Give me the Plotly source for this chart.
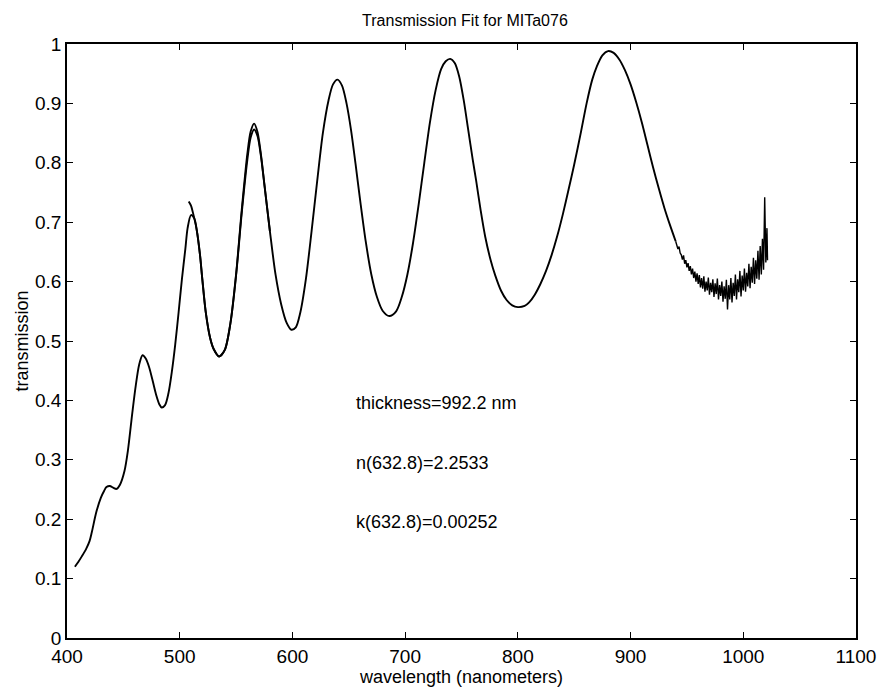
import plotly.graph_objects as go

# Measured transmission (smooth part)
meas_wl = [407, 410, 413, 417, 420, 422, 426, 430, 433, 435, 438, 441, 444, 447, 451, 454, 458,
           461, 464, 467, 470, 473, 476, 479, 482, 484, 487, 490, 493, 496, 499, 502, 505, 507,
           510, 513, 515, 518, 520, 523, 527, 530, 535, 540, 545, 550, 555, 560, 563, 566, 569,
           572, 575, 580, 585, 590, 595, 599, 603, 607, 612, 617, 622, 627, 632, 636, 640, 644,
           648, 652, 656, 660, 665, 670, 675, 680, 686, 692, 697, 702, 707, 712, 717, 722, 727,
           732, 736, 740, 744, 748, 752, 756, 760, 763, 767, 771, 776, 780, 785, 790, 795, 800,
           806, 810, 815, 820, 825, 830, 835, 840, 845, 850, 856, 861, 866, 870, 875, 880, 885, 890,
           895, 900, 905, 910, 915, 920, 925, 930, 935, 940]
meas_tr = [0.120, 0.128, 0.137, 0.150, 0.163, 0.178, 0.212, 0.236, 0.248, 0.254, 0.256, 0.253, 0.251, 0.258, 0.281, 0.315, 0.380,
           0.425, 0.460, 0.476, 0.470, 0.455, 0.433, 0.410, 0.393, 0.388, 0.392, 0.412, 0.448, 0.494, 0.548, 0.605, 0.655, 0.690,
           0.712, 0.706, 0.688, 0.645, 0.605, 0.550, 0.505, 0.487, 0.474, 0.485, 0.530, 0.610, 0.715, 0.805, 0.843, 0.856, 0.845,
           0.812, 0.765, 0.685, 0.612, 0.562, 0.530, 0.519, 0.523, 0.548, 0.605, 0.685, 0.770, 0.850, 0.905, 0.932, 0.940, 0.930,
           0.900, 0.855, 0.798, 0.738, 0.668, 0.612, 0.574, 0.551, 0.542, 0.550, 0.574, 0.612, 0.665, 0.730, 0.800, 0.868, 0.922,
           0.958, 0.971, 0.975, 0.968, 0.945, 0.905, 0.855, 0.805, 0.770, 0.720, 0.676, 0.635, 0.610, 0.585, 0.569, 0.560, 0.557,
           0.559, 0.565, 0.578, 0.596, 0.618, 0.645, 0.677, 0.714, 0.755, 0.797, 0.852, 0.900, 0.940, 0.962, 0.981, 0.988, 0.985, 0.974,
           0.956, 0.932, 0.902, 0.868, 0.830, 0.792, 0.757, 0.724, 0.695, 0.668]

# Measured transmission (noisy tail)
tail_wl = [940, 941, 942, 943, 944, 945, 946, 947, 948, 949, 950, 951, 952, 953, 954, 955, 956, 957, 958, 959,
           960, 961, 962, 963, 964, 965, 966, 967, 968, 969, 970, 971, 972, 973, 974, 975, 976, 977, 978, 979,
           980, 981, 982, 983, 984, 985, 986, 987, 988, 989, 990, 991, 992, 993, 994, 995, 996, 997, 998, 999,
           1000, 1001, 1002, 1003, 1004, 1005, 1006, 1007, 1008, 1009, 1010, 1011, 1012, 1013, 1014, 1015, 1016,
           1017, 1018, 1019, 1020, 1021, 1021.5]
tail_tr = [0.668, 0.660, 0.655, 0.659, 0.648, 0.645, 0.637, 0.644, 0.630, 0.636, 0.624, 0.631, 0.618, 0.626, 0.612, 0.622, 0.606, 0.617, 0.600, 0.614,
           0.596, 0.611, 0.590, 0.606, 0.588, 0.609, 0.583, 0.600, 0.585, 0.607, 0.578, 0.598, 0.582, 0.604, 0.574, 0.597, 0.579, 0.605, 0.570, 0.594,
           0.576, 0.600, 0.566, 0.592, 0.571, 0.603, 0.553, 0.594, 0.570, 0.606, 0.565, 0.598, 0.576, 0.612, 0.570, 0.604, 0.582, 0.618, 0.575, 0.610,
           0.585, 0.622, 0.583, 0.615, 0.592, 0.630, 0.589, 0.625, 0.598, 0.640, 0.596, 0.636, 0.605, 0.652, 0.603, 0.660, 0.612,
           0.672, 0.620, 0.742, 0.632, 0.690, 0.636]

# Fitted transmission
fit_wl = [508, 510, 512, 515, 518, 520, 523, 527, 530, 535, 540, 545, 550, 555, 560, 563, 566, 569, 572, 575, 580]
fit_tr = [0.735, 0.728, 0.714, 0.688, 0.645, 0.605, 0.550, 0.505, 0.487, 0.474, 0.485, 0.530, 0.612, 0.720, 0.815, 0.853, 0.866, 0.852,
          0.815, 0.766, 0.685]

x_ticks = [400, 500, 600, 700, 800, 900, 1000, 1100]
y_ticks = [0, 0.1, 0.2, 0.3, 0.4, 0.5, 0.6, 0.7, 0.8, 0.9, 1]
y_tick_text = ["0", "0.1", "0.2", "0.3", "0.4", "0.5", "0.6", "0.7", "0.8", "0.9", "1"]

labels = ["thickness=992.2 nm", "n(632.8)=2.2533", "k(632.8)=0.00252"]
label_y = [0.395, 0.295, 0.195]
label_x = 655

FONT = "Liberation Sans, Arial, Helvetica, sans-serif"

fig = go.Figure()
fig.add_trace(go.Scatter(x=meas_wl, y=meas_tr, mode="lines",
                         line=dict(color="black", width=1.9, shape="spline", smoothing=0.8), showlegend=False))
fig.add_trace(go.Scatter(x=tail_wl, y=tail_tr, mode="lines",
                         line=dict(color="black", width=1.4), showlegend=False))
fig.add_trace(go.Scatter(x=fit_wl, y=fit_tr, mode="lines",
                         line=dict(color="black", width=1.9, shape="spline", smoothing=0.8), showlegend=False))

for t, yv in zip(labels, label_y):
    fig.add_annotation(x=label_x, y=yv, text=t, showarrow=False, xanchor="left", yanchor="middle",
                       font=dict(family=FONT, size=18, color="black"))

fig.update_layout(
    width=888, height=691,
    margin=dict(l=67, r=25, t=44, b=49),
    paper_bgcolor="white", plot_bgcolor="white",
    title=dict(text="Transmission Fit for MITa076", x=0.5236, xanchor="center", y=0.971, yanchor="middle",
               font=dict(family=FONT, size=16, color="black")),
    font=dict(family=FONT, color="black"),
)
fig.update_xaxes(range=[400, 1100], tickvals=x_ticks, ticks="inside", ticklen=6, tickwidth=1.3,
                 tickcolor="black", showline=True, linecolor="black", linewidth=1.6, mirror="ticks",
                 showgrid=False, zeroline=False, tickfont=dict(family=FONT, size=19, color="black"),
                 title=dict(text="wavelength (nanometers)", font=dict(family=FONT, size=18, color="black"), standoff=0))
fig.update_yaxes(range=[0, 1], tickvals=y_ticks, ticktext=y_tick_text, ticks="inside", ticklen=6, tickwidth=1.3,
                 tickcolor="black", showline=True, linecolor="black", linewidth=1.6, mirror="ticks",
                 showgrid=False, zeroline=False, tickfont=dict(family=FONT, size=19, color="black"),
                 title=dict(text="transmission", font=dict(family=FONT, size=18, color="black"), standoff=2))

fig.write_html("out.html")
